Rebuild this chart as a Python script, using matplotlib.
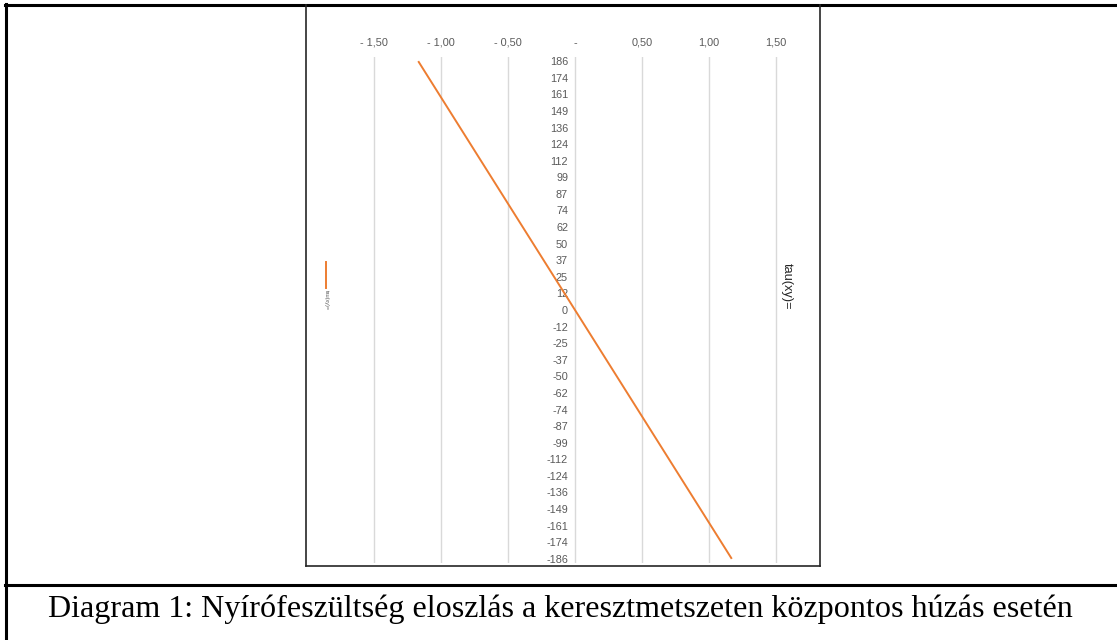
import numpy as np
import matplotlib.pyplot as plt
from matplotlib.lines import Line2D

# y categories (top to bottom) and tau values along the section
y_labels = ['186', '174', '161', '149', '136', '124', '112', '99', '87', '74',
            '62', '50', '37', '25', '12', '0', '-12', '-25', '-37', '-50',
            '-62', '-74', '-87', '-99', '-112', '-124', '-136', '-149', '-161',
            '-174', '-186']
tau = [-1.170, -1.092, -1.014, -0.936, -0.858, -0.780, -0.702, -0.624, -0.546,
       -0.468, -0.390, -0.312, -0.234, -0.156, -0.078, 0.000, 0.078, 0.156,
       0.234, 0.312, 0.390, 0.468, 0.546, 0.624, 0.702, 0.780, 0.858, 0.936,
       1.014, 1.092, 1.170]
x_ticks = [-1.5, -1.0, -0.5, 0.0, 0.5, 1.0, 1.5]
x_tick_labels = ['- 1,50', '- 1,00', '- 0,50', '-', '0,50', '1,00', '1,50']
series_name = 'tau(xy)='
caption = 'Diagram 1: Nyírófeszültség eloszlás a keresztmetszeten központos húzás esetén'

W, H = 1117, 640
fig = plt.figure(figsize=(W / 100, H / 100), dpi=100)


def px(x0, y0, x1, y1):
    # pixel box (top-left origin) -> figure fraction rect
    return [x0 / W, 1 - y1 / H, (x1 - x0) / W, (y1 - y0) / H]


# chart axes: zero at x=575, 134 px per unit
left_px, right_px = 340, 810
ax = fig.add_axes(px(left_px, 57, right_px, 563))
ax.set_xlim((left_px - 575) / 134, (right_px - 575) / 134)
n = len(y_labels)
pos = np.arange(n)
ax.set_ylim(n - 1 + 0.25, -0.25)

ax.plot(tau, pos, color='#ed7d31', lw=1.4, solid_capstyle='butt')

for s in ax.spines.values():
    s.set_visible(False)
ax.set_xticks(x_ticks)
ax.set_xticklabels(x_tick_labels)
ax.xaxis.tick_top()
ax.tick_params(axis='x', length=0, pad=6.5, labelsize=7.8, labelcolor='#595959')
ax.grid(axis='x', color='#d9d9d9', lw=1)
ax.spines['left'].set_position(('data', 0))
ax.set_yticks(pos)
ax.set_yticklabels(y_labels)
ax.tick_params(axis='y', length=0, pad=5, labelsize=7.8, labelcolor='#595959')
for lab in ax.get_xticklabels() + ax.get_yticklabels():
    lab.set_fontfamily('Liberation Sans')

# axis title on the right
fig.text(787 / W, 1 - 286 / H, series_name, rotation=270, ha='center', va='center',
         fontsize=9.2, color='#262626', family='Liberation Sans')

# legend (vertical)
fig.add_artist(Line2D([326 / W, 326 / W], [1 - 262 / H, 1 - 288 / H],
                      color='#ed7d31', lw=1.4))
fig.text(326 / W, 1 - 300 / H, series_name, rotation=270, ha='center', va='center',
         fontsize=4, color='#595959', family='Liberation Sans')

# document table borders
def hline(y, x0, x1, lw, c='black'):
    fig.add_artist(Line2D([x0 / W, x1 / W], [1 - y / H, 1 - y / H], color=c, lw=lw))


def vline(x, y0, y1, lw, c='black'):
    fig.add_artist(Line2D([x / W, x / W], [1 - y0 / H, 1 - y1 / H], color=c, lw=lw))


hline(5, 5, W, 2.2)
vline(6, 4, H, 2.2)
hline(585, 5, W, 2.2)
# chart frame
vline(306, 5, 566, 1.2, '#262626')
vline(820, 5, 566, 1.2, '#262626')
hline(565.5, 306, 820, 1.2, '#262626')

fig.text(560 / W, 1 - 609 / H, caption, ha='center', va='center', fontsize=23.1,
         family='Liberation Serif', color='black')

fig.savefig('out.png', dpi=100)
